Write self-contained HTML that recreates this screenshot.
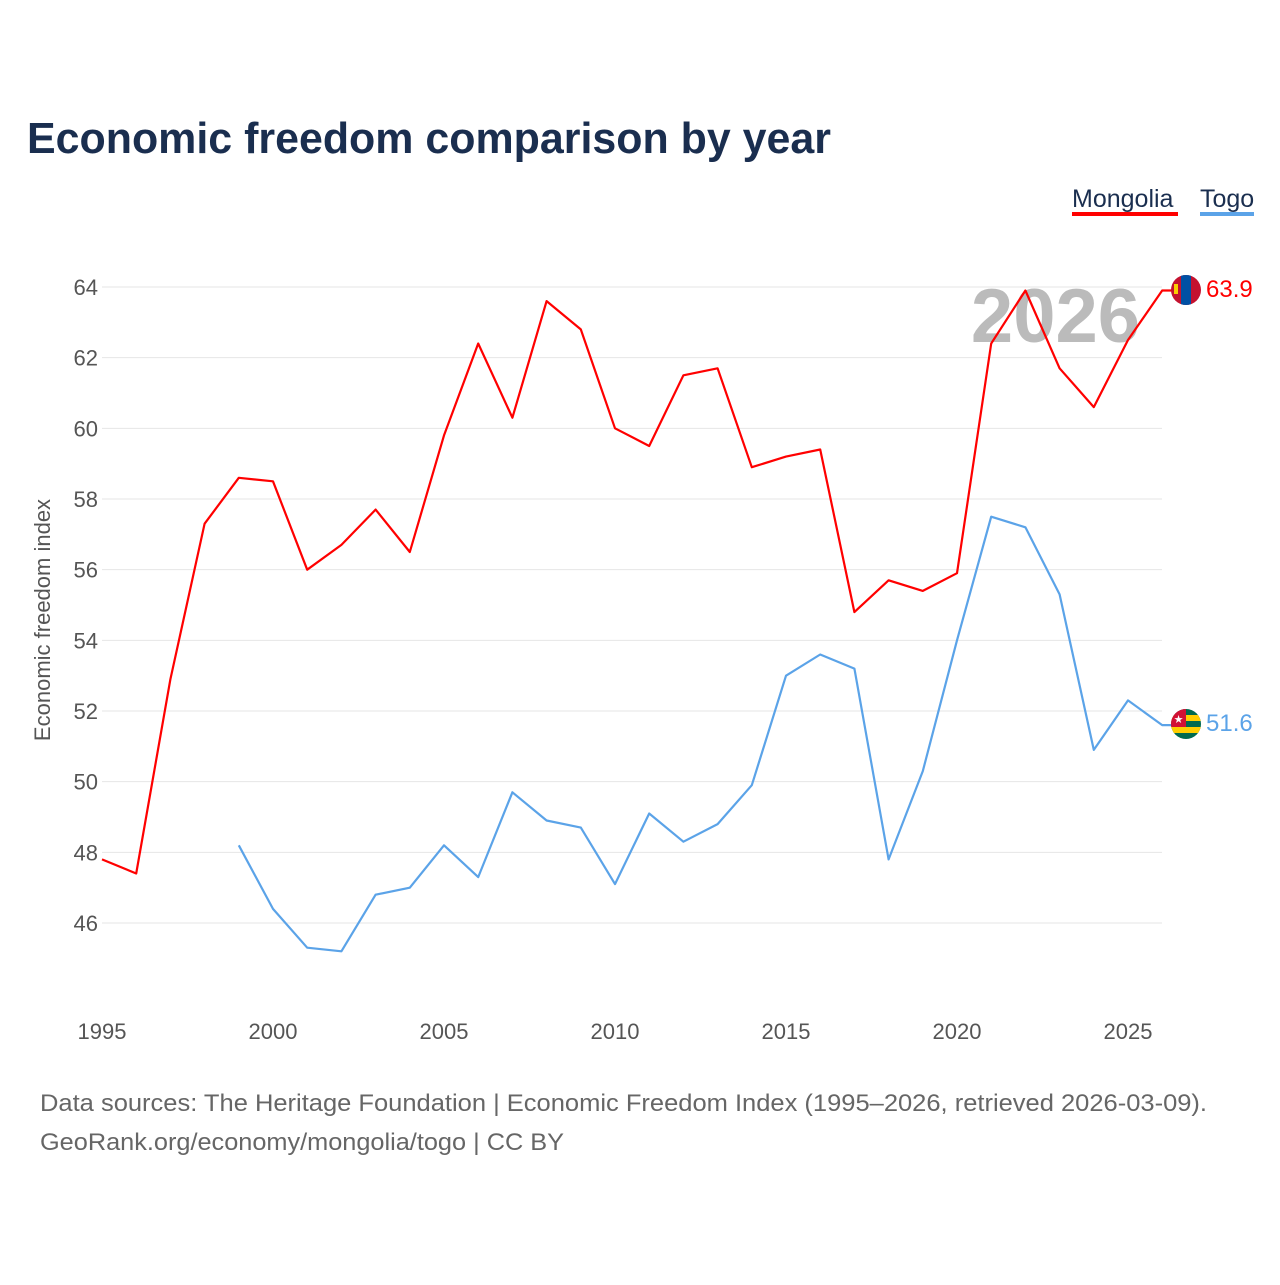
<!DOCTYPE html>
<html><head><meta charset="utf-8"><style>
body{margin:0;background:#fff;width:1280px;height:1280px;overflow:hidden;font-family:"Liberation Sans",sans-serif}
</style></head><body>
<svg width="1280" height="1280" xmlns="http://www.w3.org/2000/svg">
<text x="27" y="153" font-size="44" font-weight="bold" fill="#1a2e4f" textLength="804" lengthAdjust="spacingAndGlyphs">Economic freedom comparison by year</text>
<g>
<text x="1072" y="207" font-size="25" fill="#1a2e4f">Mongolia</text>
<rect x="1072" y="212" width="106" height="4" fill="#ff0000"/>
<text x="1200" y="207" font-size="25" fill="#1a2e4f">Togo</text>
<rect x="1200" y="212" width="54" height="4" fill="#5ba3e8"/>
</g>
<g id="grid"></g>
<g id="yticks"></g>
<g id="xticks"></g>
<text x="50" y="620" font-size="22" fill="#555" transform="rotate(-90 50 620)" text-anchor="middle">Economic freedom index</text>
<text x="1140" y="342" font-size="76" font-weight="bold" fill="#bbb" text-anchor="end">2026</text>
<g id="series"></g>
<g>
<clipPath id="c1"><circle cx="1186" cy="290" r="15"/></clipPath>
<g clip-path="url(#c1)"><rect x="1171" y="275" width="30" height="30" fill="#c4122f"/><rect x="1181" y="275" width="10" height="30" fill="#0050a4"/><rect x="1174" y="284" width="4" height="10" fill="#f9cf02"/></g>
</g>
<g>
<clipPath id="c2"><circle cx="1186" cy="724" r="15"/></clipPath>
<g clip-path="url(#c2)"><rect x="1171" y="709" width="30" height="30" fill="#006a4e"/><rect x="1171" y="715" width="30" height="6" fill="#ffce00"/><rect x="1171" y="727" width="30" height="6" fill="#ffce00"/><rect x="1171" y="709" width="15" height="18" fill="#d21034"/><text x="1178.5" y="723" font-size="11" fill="#fff" text-anchor="middle">★</text></g>
</g>
<text x="1206" y="297" font-size="24" fill="#ff0000">63.9</text>
<text x="1206" y="731" font-size="24" fill="#5ba3e8">51.6</text>
<text x="40" y="1111" font-size="24" fill="#666" textLength="1167" lengthAdjust="spacingAndGlyphs">Data sources: The Heritage Foundation | Economic Freedom Index (1995–2026, retrieved 2026-03-09).</text>
<text x="40" y="1150" font-size="24" fill="#666" textLength="524" lengthAdjust="spacingAndGlyphs">GeoRank.org/economy/mongolia/togo | CC BY</text>
</svg>
<script>
const years=[1995,1996,1997,1998,1999,2000,2001,2002,2003,2004,2005,2006,2007,2008,2009,2010,2011,2012,2013,2014,2015,2016,2017,2018,2019,2020,2021,2022,2023,2024,2025,2026];
const mongolia=[47.8,47.4,52.9,57.3,58.6,58.5,56.0,56.7,57.7,56.5,59.8,62.4,60.3,63.6,62.8,60.0,59.5,61.5,61.7,58.9,59.2,59.4,54.8,55.7,55.4,55.9,62.4,63.9,61.7,60.6,62.5,63.9];
const togo=[null,null,null,null,48.2,46.4,45.3,45.2,46.8,47.0,48.2,47.3,49.7,48.9,48.7,47.1,49.1,48.3,48.8,49.9,53.0,53.6,53.2,47.8,50.3,54.0,57.5,57.2,55.3,50.9,52.3,51.6];
const yTicks=[46,48,50,52,54,56,58,60,62,64];
const xTicks=[1995,2000,2005,2010,2015,2020,2025];
const NS="http://www.w3.org/2000/svg";
const X=y=>102+(y-1995)*34.2;
const Y=v=>287+(64-v)*35.333;
function mk(t,a,p){const e=document.createElementNS(NS,t);for(const k in a)e.setAttribute(k,a[k]);p.appendChild(e);return e;}
const grid=document.getElementById('grid'),yt=document.getElementById('yticks'),xt=document.getElementById('xticks'),ser=document.getElementById('series');
yTicks.forEach(v=>{
 const l=mk('line',{x1:102,x2:1162,y1:Y(v),y2:Y(v),stroke:'#e6e6e6','stroke-width':1},grid);
 
 
 const t=mk('text',{x:98,y:Y(v)+8,'font-size':22,fill:'#555','text-anchor':'end'},yt);t.textContent=v;
 
 
});
xTicks.forEach(v=>{
 const t=mk('text',{x:X(v),y:1039,'font-size':22,fill:'#555','text-anchor':'middle'},xt);t.textContent=v;
 
 
});
function line(vals,color,name){
 let d='';vals.forEach((v,i)=>{if(v==null)return;d+=(d?'L':'M')+X(years[i]).toFixed(1)+','+Y(v).toFixed(1);});
 const last=vals[vals.length-1];d+='L'+(X(2026)+10)+','+Y(last).toFixed(1);
 const p=mk('path',{d:d,fill:'none',stroke:color,'stroke-width':2.2,'stroke-linejoin':'round'},ser);
 
 
}
line(mongolia,'#ff0000','mongolia-line');
line(togo,'#5ba3e8','togo-line');
</script>
</body></html>
